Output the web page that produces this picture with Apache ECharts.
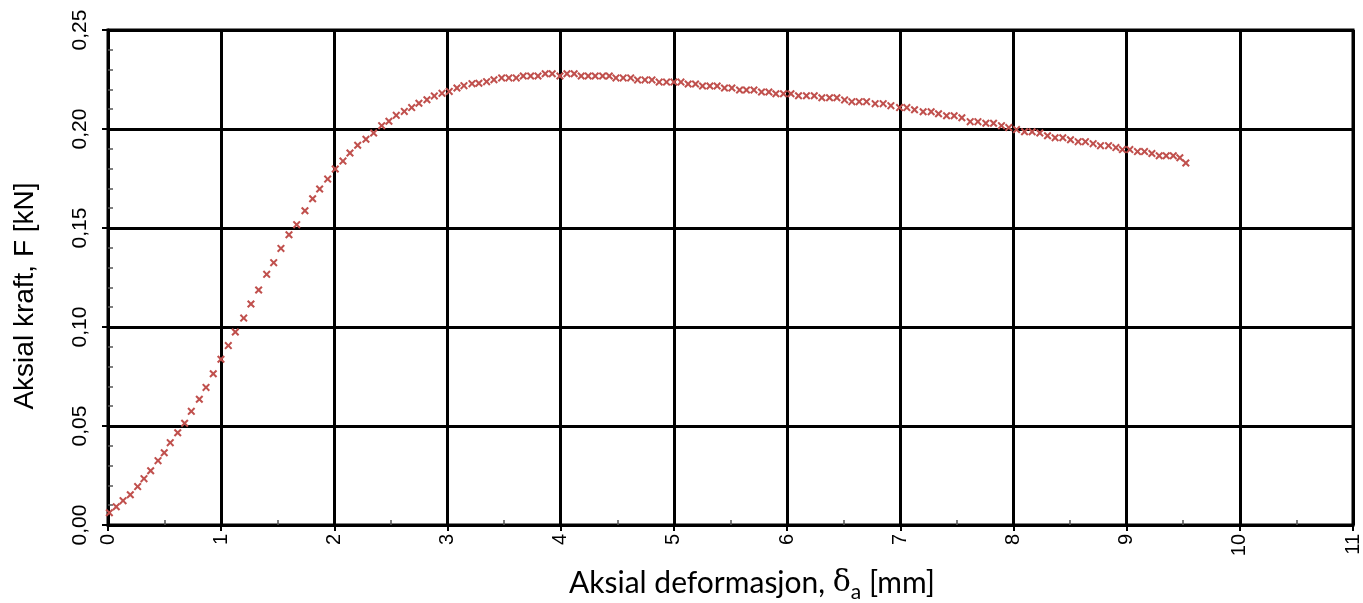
<!DOCTYPE html>
<html>
<head>
<meta charset="utf-8">
<script src="https://cdn.jsdelivr.net/npm/echarts@6/dist/echarts.min.js"></script>
<style>html,body{margin:0;padding:0;background:#fff}#c{width:1363px;height:603px}</style>
</head>
<body>
<div id="c"></div>
<script>
var deformation = [
0.012,0.073,0.133,0.197,0.262,0.318,0.377,0.442,0.497,0.550,0.616,0.677,0.736,0.807,0.866,0.930,0.998,1.063,1.125,1.199,
1.263,1.331,1.402,1.464,1.528,1.599,1.667,1.740,1.808,1.870,1.941,2.008,2.076,2.138,2.206,2.279,2.347,2.418,2.482,2.547,
2.618,2.683,2.747,2.818,2.883,2.951,3.015,3.083,3.145,3.216,3.277,3.345,3.410,3.478,3.542,3.607,3.669,3.734,3.799,3.863,
3.925,3.993,4.055,4.119,4.181,4.243,4.305,4.370,4.429,4.488,4.552,4.618,4.679,4.744,4.806,4.870,4.935,5.000,5.062,5.126,
5.191,5.253,5.318,5.382,5.447,5.512,5.580,5.641,5.707,5.774,5.839,5.901,5.968,6.034,6.101,6.171,6.240,6.307,6.375,6.440,
6.508,6.572,6.637,6.702,6.778,6.849,6.917,6.994,7.058,7.126,7.202,7.273,7.338,7.409,7.476,7.544,7.618,7.686,7.756,7.824,
7.894,7.959,8.027,8.098,8.165,8.233,8.301,8.368,8.436,8.504,8.572,8.636,8.704,8.769,8.840,8.905,8.963,9.028,9.096,9.158,
9.223,9.288,9.350,9.412,9.470,9.523
];
var force = [
0.0062,0.0092,0.0123,0.0153,0.0194,0.0234,0.0274,0.0325,0.0365,0.0416,0.0466,0.0514,0.0574,0.0635,0.0695,0.0764,0.0837,0.0906,0.0975,0.1045,
0.1116,0.1187,0.1266,0.1325,0.1397,0.1466,0.1517,0.1587,0.1648,0.1697,0.1747,0.1798,0.1838,0.1879,0.1918,0.1948,0.1980,0.2017,0.2039,0.2069,
0.2089,0.2108,0.2130,0.2148,0.2167,0.2180,0.2190,0.2207,0.2219,0.2229,0.2231,0.2239,0.2249,0.2258,0.2258,0.2258,0.2268,0.2268,0.2268,0.2279,
0.2279,0.2268,0.2279,0.2279,0.2268,0.2268,0.2268,0.2268,0.2268,0.2258,0.2258,0.2258,0.2248,0.2248,0.2248,0.2237,0.2237,0.2237,0.2237,0.2227,
0.2227,0.2217,0.2217,0.2217,0.2207,0.2207,0.2197,0.2197,0.2197,0.2187,0.2187,0.2178,0.2178,0.2178,0.2168,0.2168,0.2168,0.2158,0.2158,0.2158,
0.2147,0.2138,0.2138,0.2138,0.2128,0.2128,0.2118,0.2108,0.2108,0.2097,0.2087,0.2087,0.2077,0.2067,0.2067,0.2057,0.2037,0.2037,0.2029,0.2029,
0.2017,0.2007,0.1997,0.1986,0.1986,0.1980,0.1966,0.1956,0.1956,0.1946,0.1936,0.1936,0.1926,0.1916,0.1916,0.1906,0.1896,0.1896,0.1886,0.1886,
0.1876,0.1865,0.1865,0.1865,0.1855,0.1828
];
var xTitleMain = 'Aksial deformasjon, ';
var xTitleSymbol = 'δ';
var xTitleSub = 'a';
var xTitleUnit = ' [mm]';
var yTitle = 'Aksial kraft, F [kN]';

var points = deformation.map(function (d, i) { return [d, force[i]]; });
var crossPath = 'path://M0,1.8L1.8,0L5,3.2L8.2,0L10,1.8L6.8,5L10,8.2L8.2,10L5,6.8L1.8,10L0,8.2L3.2,5Z';
var FONT = 'Liberation Sans';

var chart = echarts.init(document.getElementById('c'), null, {renderer: 'canvas'});
chart.setOption({
  animation: false,
  backgroundColor: '#ffffff',
  grid: {left: 108, right: 10, top: 30, bottom: 78, show: true, borderColor: '#000', borderWidth: 3, backgroundColor: 'transparent'},
  xAxis: [{
    type: 'value', min: 0, max: 11, interval: 1,
    axisLine: {show: true, onZero: false, lineStyle: {color: '#000', width: 3}},
    axisTick: {show: true, inside: false, length: 6, lineStyle: {color: '#000', width: 2}},
    splitLine: {show: true, lineStyle: {color: '#000', width: 3}},
    axisLabel: {rotate: 90, margin: 9, color: '#000', fontFamily: FONT, fontSize: 20}
  }, {
    type: 'value', min: 0, max: 11, interval: 1, position: 'bottom',
    axisLine: {show: false},
    axisTick: {show: true, inside: true, length: 1, lineStyle: {color: 'rgba(0,0,0,0)'}},
    minorTick: {show: true, splitNumber: 2, length: 5, lineStyle: {color: '#555', width: 1.5}},
    splitLine: {show: false},
    axisLabel: {show: false}
  }],
  yAxis: [{
    type: 'value', min: 0, max: 0.25, interval: 0.05,
    axisLine: {show: true, onZero: false, lineStyle: {color: '#000', width: 3}},
    axisTick: {show: true, inside: false, length: 6, lineStyle: {color: '#000', width: 2}},
    splitLine: {show: true, lineStyle: {color: '#000', width: 3}},
    axisLabel: {rotate: 90, margin: 17, color: '#000', fontFamily: FONT, fontSize: 21,
      formatter: function (v) { return v.toFixed(2).replace('.', ','); }}
  }, {
    type: 'value', min: 0, max: 0.25, interval: 0.05, position: 'left',
    axisLine: {show: false},
    axisTick: {show: true, inside: true, length: 1, lineStyle: {color: 'rgba(0,0,0,0)'}},
    minorTick: {show: true, splitNumber: 5, length: 5, lineStyle: {color: '#555', width: 1.5}},
    splitLine: {show: false},
    axisLabel: {show: false}
  }],
  series: [{
    type: 'scatter', xAxisIndex: 0, yAxisIndex: 0,
    data: points,
    symbol: crossPath, symbolSize: 8,
    itemStyle: {color: '#c0504d', opacity: 1},
    z: 5
  }],
  graphic: [{
    id: 'yt', type: 'text', rotation: Math.PI / 2, x: 25, y: 296,
    style: {text: yTitle, fontSize: 28, fontFamily: 'Liberation Sans', fill: '#000', align: 'center', verticalAlign: 'middle'}
  }, {
    id: 'xt', type: 'text', x: 752, y: 583,
    style: {
      text: '{t|' + xTitleMain + '}{d|' + xTitleSymbol + '}{s|' + xTitleSub + '}{t|' + xTitleUnit + '}',
      align: 'center', verticalAlign: 'middle',
      rich: {
        t: {fontSize: 30, fontFamily: 'Lato', fill: '#000'},
        d: {fontSize: 30, fontFamily: 'DejaVu Serif', fill: '#000'},
        s: {fontSize: 21, fontFamily: 'Lato', fill: '#000', padding: [18, 0, 0, 0]}
      }
    }
  }]
});
</script>
</body>
</html>
